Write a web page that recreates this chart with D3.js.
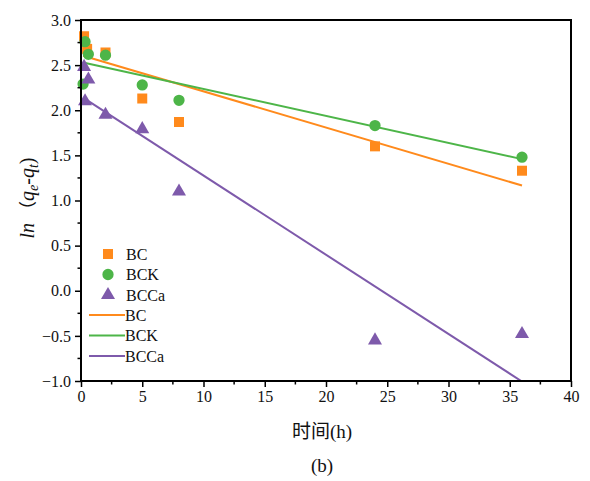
<!DOCTYPE html>
<html>
<head>
<meta charset="utf-8">
<script src="https://cdn.jsdelivr.net/npm/d3@7"></script>
<style>
  body { margin: 0; background: #fff; }
  svg { display: block; }
  text { font-family: "Liberation Serif", "Times New Roman", "Noto Sans CJK SC", serif; }
</style>
</head>
<body>
<div id="chart"></div>
<script>
// ---- data ----
const bcTime   = [0.25, 0.5, 2, 5, 8, 24, 36];
const bcValue  = [2.82, 2.68, 2.64, 2.13, 1.87, 1.60, 1.33];
const bckTime  = [0.17, 0.33, 0.6, 2, 5, 8, 24, 36];
const bckValue = [2.29, 2.76, 2.62, 2.61, 2.28, 2.11, 1.83, 1.48];
const bccaTime  = [0.25, 0.6, 0.33, 2, 5, 8, 24, 36];
const bccaValue = [2.48, 2.34, 2.10, 1.95, 1.79, 1.10, -0.55, -0.48];
// fitted lines: [intercept, slope] over fitRange
const fitRange = [0.17, 36];
const bcFit   = [2.61, -0.0401];
const bckFit  = [2.535, -0.0299];
const bccaFit = [2.155, -0.0878];
const xTicks = [0, 5, 10, 15, 20, 25, 30, 35, 40];
const yTicks = [-1.0, -0.5, 0.0, 0.5, 1.0, 1.5, 2.0, 2.5, 3.0];
const seriesNames = ["BC", "BCK", "BCCa"];
const colors = { BC: "#FF8A1C", BCK: "#4DB548", BCCa: "#7E5AAB" };

// ---- layout ----
const W = 590, H = 481;
const m = { left: 81, right: 19, top: 20, bottom: 100 };
const svg = d3.select("#chart").append("svg").attr("width", W).attr("height", H);
const x = d3.scaleLinear().domain([0, 40]).range([m.left, W - m.right]);
const y = d3.scaleLinear().domain([-1, 3]).range([H - m.bottom, m.top]);

svg.append("defs").append("clipPath").attr("id", "clip")
  .append("rect").attr("x", x(0)).attr("y", y(3)).attr("width", x(40) - x(0)).attr("height", y(-1) - y(3));

// fit lines
const fits = [["BC", bcFit], ["BCK", bckFit], ["BCCa", bccaFit]];
const lineGen = d3.line().x(d => x(d[0])).y(d => y(d[1]));
const gl = svg.append("g").attr("clip-path", "url(#clip)");
fits.forEach(([name, f]) => {
  const pts = fitRange.map(t => [t, f[0] + f[1] * t]);
  gl.append("path").attr("d", lineGen(pts)).attr("fill", "none")
    .attr("stroke", colors[name]).attr("stroke-width", 2);
});

// points
const sq = d3.symbol().type(d3.symbolSquare).size(100);
const ci = d3.symbol().type(d3.symbolCircle).size(100);
const tr = d3.symbol().type(d3.symbolTriangle).size(85);
const gp = svg.append("g");
function drawPts(ts, vs, sym, col) {
  ts.forEach((t, i) => {
    gp.append("path").attr("d", sym()).attr("fill", col)
      .attr("transform", `translate(${x(t)},${y(vs[i])})`);
  });
}
drawPts(bcTime, bcValue, sq, colors.BC);
drawPts(bckTime, bckValue, ci, colors.BCK);
drawPts(bccaTime, bccaValue, tr, colors.BCCa);

// axes
const xAxis = d3.axisBottom(x).tickValues(xTicks).tickSize(6).tickPadding(4).tickFormat(d3.format("d"));
const yAxis = d3.axisLeft(y).tickValues(yTicks).tickSize(6).tickPadding(4).tickFormat(d3.format(".1f"));
const gx = svg.append("g").attr("transform", `translate(0,${y(-1)})`).call(xAxis);
const gy = svg.append("g").attr("transform", `translate(${x(0)},0)`).call(yAxis);
[gx, gy].forEach(g => {
  g.select(".domain").remove();
  g.selectAll(".tick line").attr("stroke", "#000").attr("stroke-width", 1.5);
  g.selectAll(".tick text").attr("font-size", 16).attr("fill", "#111")
    .style("font-family", '"Liberation Serif", serif');
});
// minor ticks
const xMinor = d3.range(2.5, 40, 5);
const yMinor = d3.range(-0.75, 3, 0.5);
svg.append("g").selectAll("line").data(xMinor).join("line")
  .attr("x1", d => x(d)).attr("x2", d => x(d)).attr("y1", y(-1)).attr("y2", y(-1) + 3.5)
  .attr("stroke", "#000").attr("stroke-width", 1.5);
svg.append("g").selectAll("line").data(yMinor).join("line")
  .attr("y1", d => y(d)).attr("y2", d => y(d)).attr("x1", x(0)).attr("x2", x(0) - 3.5)
  .attr("stroke", "#000").attr("stroke-width", 1.5);
// frame
svg.append("rect").attr("x", x(0)).attr("y", y(3)).attr("width", x(40) - x(0)).attr("height", y(-1) - y(3))
  .attr("fill", "none").attr("stroke", "#000").attr("stroke-width", 2);

// axis titles
svg.append("text").attr("x", (x(0) + x(40)) / 2 - 4).attr("y", 438).attr("text-anchor", "middle")
  .attr("font-size", 19).attr("fill", "#111").text("时间(h)");
svg.append("text").attr("x", (x(0) + x(40)) / 2 - 4).attr("y", 472).attr("text-anchor", "middle")
  .attr("font-size", 19).attr("fill", "#111").text("(b)");
const yl = svg.append("text").attr("transform", `translate(34,198) rotate(-90)`)
  .attr("text-anchor", "middle").attr("font-size", 20).attr("fill", "#111");
yl.append("tspan").attr("font-style", "italic").text("ln");
yl.append("tspan").style("font-family", '"Noto Sans CJK SC", sans-serif').attr("font-size", 18).text(" （");
yl.append("tspan").attr("font-style", "italic").text("q");
yl.append("tspan").attr("font-style", "italic").attr("font-size", 14).attr("dy", 4).text("e");
yl.append("tspan").attr("font-style", "italic").attr("dy", -4).text("-q");
yl.append("tspan").attr("font-style", "italic").attr("font-size", 14).attr("dy", 4).text("t");
yl.append("tspan").attr("dy", -4).text(")");

// legend
const lg = svg.append("g");
const syms = { BC: sq, BCK: ci, BCCa: tr };
seriesNames.forEach((n, i) => {
  const yy = 254 + i * 20.5;
  lg.append("path").attr("d", syms[n]()).attr("fill", colors[n]).attr("transform", `translate(108,${yy})`);
  lg.append("text").attr("x", 126).attr("y", yy + 5.5).attr("font-size", 16).attr("fill", "#111").text(n);
});
seriesNames.forEach((n, i) => {
  const yy = 315 + i * 20.5;
  lg.append("line").attr("x1", 89).attr("x2", 125).attr("y1", yy).attr("y2", yy)
    .attr("stroke", colors[n]).attr("stroke-width", 2);
  lg.append("text").attr("x", 125).attr("y", yy + 5.5).attr("font-size", 16).attr("fill", "#111").text(n);
});
</script>
</body>
</html>
